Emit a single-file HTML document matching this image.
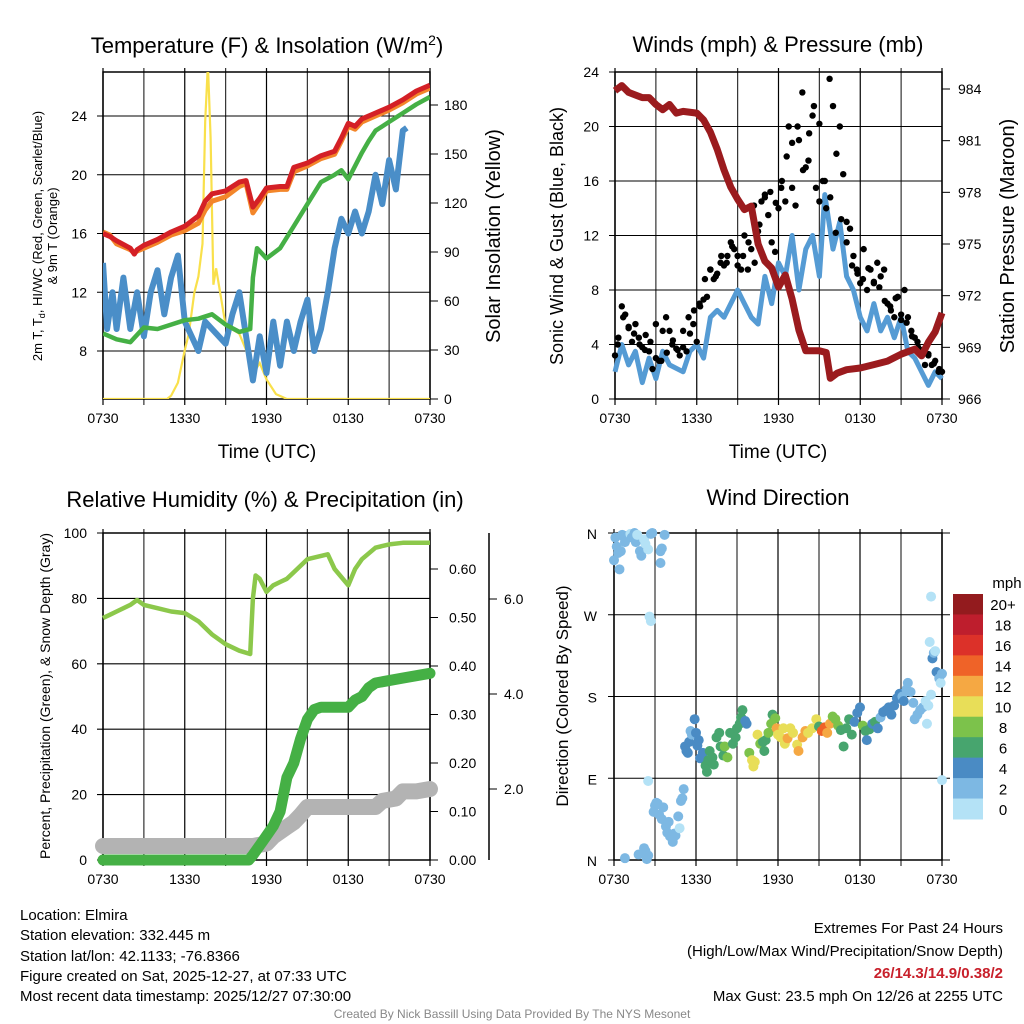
<!DOCTYPE html>
<html><head><meta charset="utf-8"><style>
html,body{margin:0;padding:0;background:#fff;}
svg{display:block;font-family:"Liberation Sans",sans-serif;}
.ft{position:absolute;font-family:"Liberation Sans",sans-serif;font-size:15px;color:#000;white-space:nowrap;}
</style></head><body>
<div style="position:relative;width:1024px;height:1024px;overflow:hidden">
<svg id="s" width="1024" height="1024" viewBox="0 0 1024 1024"></svg>
<div class="ft" style="left:20px;top:906px;line-height:20.3px">Location: Elmira<br>Station elevation: 332.445 m<br>Station lat/lon: 42.1133; -76.8366<br>Figure created on Sat, 2025-12-27, at 07:33 UTC<br>Most recent data timestamp: 2025/12/27 07:30:00</div>
<div class="ft" style="right:21px;top:918px;text-align:right;line-height:22.5px">Extremes For Past 24 Hours<br>(High/Low/Max Wind/Precipitation/Snow Depth)<br><b style="color:#c8202b">26/14.3/14.9/0.38/2</b><br>Max Gust: 23.5 mph On 12/26 at 2255 UTC</div>
<div class="ft" style="left:0;width:1024px;top:1007px;text-align:center;font-size:12px;color:#888">Created By Nick Bassill Using Data Provided By The NYS Mesonet</div>
</div>
<script>
// ---------- DATA ----------
const timeTicks=["0730","1330","1930","0130","0730"];
const tempT=[0,0.5,1,2,2.3,2.5,3,4,5,6,7,7.5,8,9,10,10.5,11,11.5,12,13,13.5,14,15,16,17,17.5,18,18.5,19,20,21,22,23,24];
const tempV=[16,15.8,15.5,15,14.6,14.9,15.2,15.6,16.1,16.5,17.2,18.2,18.7,18.9,19.5,19.6,17.8,18.4,19.1,19.2,19.2,20.5,20.8,21.3,21.6,22.5,23.5,23.3,23.8,24.2,24.6,25.1,25.7,26.1];
const temp9V=[16.1,15.9,15.3,14.9,14.7,14.8,15.0,15.4,15.9,16.2,16.7,17.6,18.2,18.5,19.2,19.4,17.4,18.1,18.9,19.0,19.0,20.2,20.6,21.1,21.4,22.3,23.3,23.1,23.6,24.0,24.4,24.9,25.5,25.9];
const dewT=[0,1,2,3,4,5,6,7,8,9,10,10.8,11,11.3,12,13,14,15,16,17,17.5,18,19,19.5,20,21,22,23,24];
const dewV=[9.2,8.8,8.6,9.6,9.5,9.8,10.1,10.2,10.5,9.8,9.3,9.5,13,15,14.3,15,16.5,18,19.5,20,20.3,19.7,21.5,22.3,23,23.6,24.2,24.8,25.3];
const wcT=[0,0.3,0.7,1,1.5,2,2.5,3,3.5,4,4.5,5,5.5,6,6.5,7,7.5,8,9,9.5,10,10.5,11,11.5,12,12.5,13,13.5,14,14.5,15,15.5,16,16.5,17,17.5,18,18.5,19,19.5,20,20.5,21,21.5,22,22.3];
const wcV=[14,9.5,12,9.5,13,9.5,12,9,12,13.5,10.5,13,14.5,10,9,8,10,9.5,8.5,10.5,12,9,6,9,6.5,10,7,10,8,10,11.5,8,9.5,12,15,17,16,17.5,16,17.5,20,18,21,19,23,23.2];
const solT=[0,4.7,5,5.5,6,6.3,6.7,7,7.3,7.5,7.7,7.9,8.1,8.3,8.6,9,10,10.5,11,11.5,12,12.7,13.5,24];
const solV=[0,0,2,10,30,40,65,75,95,170,205,160,70,80,65,45,40,30,15,22,12,3,0,0];
const tempTicks=[8,12,16,20,24];
const solTicks=[0,30,60,90,120,150,180];
const windT=[0,0.5,1,1.5,2,2.5,3,3.5,4,5,5.5,6,6.5,7,7.5,8,8.5,9,9.5,10,10.5,11,11.5,12,12.5,13,13.5,14,14.5,15,15.4,16,16.5,17,17.5,18,18.5,19,19.5,20,20.5,21,21.5,22,22.5,23,23.5,24];
const windV=[2,4,2.5,3.5,1.2,3,1.5,3.5,2.5,2,3.5,4,3,6,6.5,6,7,8,7,6,5.5,9,7,10,9,12,8,11,12,9,15,11,13,9,8,6,5,7,5,6,4.5,6,3.5,3,2,1,2,1.5];
const gustV=[3.2,4.5,6.8,6.2,5.3,4.2,5.5,4.5,3.8,4.7,3.5,2.2,5.5,2.8,5,6,5,4.3,3.7,3.2,3.8,3.5,4.8,5.5,4.2,6.8,7.3,7.5,9.5,8.8,9.2,10,9.8,10.5,11.5,11,10.5,9.5,12,9.5,11,10,12.3,14.5,15,13.5,11.5,10.8,14,16,14.5,20,15.5,14.2,19,22.5,17,19.5,20.8,15.5,14.5,16,14,23.5,21.5,18,20,16.5,13,12.5,10.5,9.5,8.5,11,8,9.5,8.5,10,9,9.5,7,6.5,6,7.5,5.8,8,6,5,4.5,3.8,3.5,2.5,3.3,2.5,2.8,2,2];
const gust2V=[4,6,5.2,4.8,4,3.6,4.2,3,2.8,3.4,4,3.6,5,6,6.5,7,8.8,9.5,9,10.5,10,11.2,9.8,10.5,11.5,14.2,12.8,14.8,15.2,14.4,15.5,17.8,18.8,20,16.8,17.5,21.5,20.2,16,14.8,12.2,13.2,11.5,9.8,9.2,8.8,9.6,8.6,8.2,7.2,6.8,7.4,6.2,5.6,4.6,4.2,3.6,3.2,2.6,2.2];
const presT=[0,0.5,1,2,2.5,3,3.5,4,4.5,5,6,6.5,7,7.5,8,8.5,9,9.5,10,10.5,11,11.5,12,12.5,13,13.5,14,15,15.5,15.8,16.3,17,18,19,20,21,22,22.5,23,23.5,24];
const presV=[983.9,984.2,983.8,983.5,983.5,983.1,982.8,983.1,982.6,982.7,982.6,982.2,981.5,980.5,979.3,978.3,977.6,977,977.2,975,974,973.6,972.5,973.2,971.8,970,968.8,968.8,968.7,967.2,967.5,967.7,967.8,968,968.2,968.6,968.9,968.5,969.3,969.9,971];
const windTicks=[0,4,8,12,16,20,24];
const presTicks=[966,969,972,975,978,981,984];
const rhT=[0,0.5,1,2,2.5,3,4,5,6,7,8,9,10,10.8,11,11.2,11.5,12,12.5,13,13.5,14,15,16,16.5,17,18,18.5,19,20,21,22,24];
const rhV=[74,75,76,78,79.5,78,77,76,75.5,73,69,66,64,63,80,87,86,82,84,85,86,88,92,93,93.5,89,84,89,92,95.5,96.5,97,97];
const prT=[0,10.7,11,11.5,12,12.5,13,13.5,14,14.5,15,15.5,16,18,18.5,19,19.5,20,22,24];
const prV=[0,0,0.01,0.03,0.05,0.07,0.1,0.17,0.2,0.25,0.29,0.31,0.315,0.315,0.33,0.337,0.355,0.365,0.375,0.385];
const snT=[0,11,12,12.5,13.5,14,14.5,15,20,20.5,21.5,22,23,24];
const snV=[0.8,0.8,0.85,1.0,1.2,1.3,1.45,1.62,1.62,1.75,1.8,1.95,1.95,2.0];
const rhTicks=[0,20,40,60,80,100];
const prTicks=["0.00","0.10","0.20","0.30","0.40","0.50","0.60"];
const snTicks=["2.0","4.0","6.0"];
const wdT=[0,0.1,0.2,0.3,0.4,0.5,0.6,0.7,0.8,1.0,1.2,1.3,1.5,1.6,1.7,1.9,2.0,2.2,2.3,2.5,2.7,2.8,2.6,2.7,0.8,1.8,2.2,2.3,2.4,2.5,2.9,3.0,3.1,3.2,3.3,3.5,3.6,3.8,3.9,4.0,4.1,4.3,4.4,4.5,4.7,4.8,4.9,5.0,5.1,2.5,3.4,3.5,3.4,3.7,5.2,5.3,5.4,5.5,5.6,5.7,5.9,6.0,6.1,6.2,6.3,6.5,6.7,6.8,6.9,7.0,7.2,7.3,7.5,7.7,7.8,8.0,8.1,8.3,8.5,8.7,8.9,9.0,9.2,9.3,9.4,9.6,9.7,9.9,10.1,10.2,10.3,10.5,10.7,10.9,11.0,11.1,11.3,11.5,11.6,11.8,11.9,12.0,12.2,12.4,12.5,12.7,12.9,13.1,13.4,13.5,13.8,14.0,14.2,14.5,14.8,15.0,15.2,15.4,15.6,15.8,16.0,16.2,16.4,16.6,16.8,17.0,17.2,17.4,17.6,17.8,18.0,18.2,18.4,18.5,18.7,18.9,19.1,19.3,19.5,19.7,19.9,20.1,20.3,20.5,20.7,20.9,21.1,21.2,21.4,21.5,21.7,21.9,22.0,22.2,22.4,22.6,22.8,22.9,23.1,23.3,23.4,23.6,23.8,23.9,24.0,23.2,23.5,24.0,23.0,23.2];
const wdD=[330,355,345,338,320,340,358,356,350,357,359,355,360,350,358,340,335,353,348,342,359,360,268,263,2,6,13,10,1,5,53,60,63,62,50,45,58,37,30,42,26,20,29,27,48,35,65,68,78,87,340,343,327,358,125,120,118,130,142,138,155,140,126,132,112,118,104,97,110,120,113,105,135,140,125,115,125,113,140,128,135,145,150,157,165,153,150,118,110,103,108,138,128,130,120,132,140,150,160,156,145,138,135,145,128,134,145,140,127,120,135,142,140,145,155,147,142,146,140,150,158,155,148,143,125,145,155,138,152,162,168,148,142,132,144,150,152,145,157,163,165,168,160,170,178,183,180,175,188,195,185,173,155,160,165,168,175,150,240,222,228,207,200,195,205,290,230,88,170,182];
const wdS=[2.5,3,3.5,3.8,3,3.2,3.8,3,2.5,2.2,1.5,2,3.5,2.5,1.8,2.5,2.5,1.5,0.8,0.8,2,2.5,0.8,1,2.5,2.5,2.5,2,2.5,2,2.5,2.5,3.8,3.5,2.5,2.5,2,2,2.5,2,2.5,2,2,2,2.5,1,2.5,2,2.5,0.8,2.5,2.5,2.5,2,4,4,4.5,4,3,2.5,4.5,4,4,4.5,4,5,6,6.5,6,7,7,6,6.5,6.5,7.5,7,8,9,6.5,6,6.5,7,6,6,7,4,4,9,10,10.5,10,10,8,7,7,6,8,8,7.5,9,12,11,10,11,10,12,10,11,10,12,12,13,11,10.5,11,7,15,14,12,12,9,8,8,7,6,7,7,6,5,4,4,9,6,5,6,5,6,4,3,4,4,4,4,4,4,4,3,4,2.5,2.5,3,3,2.5,3,3,2,1.5,1,1,4,2,4,2,0.8,2,0.8,1,1,1,1];
const dirLabels=["N","E","S","W","N"];
const speedBins=["0","2","4","6","8","10","12","14","16","18","20+"];
const binColors=["#b4e2f6","#7db8e3","#4a8bc4","#47a56e","#7cc24b","#e8de58","#f5a843","#ef6328","#dc3129","#be1e2d","#931b1e"];

// ---------- DRAW ----------
const NS="http://www.w3.org/2000/svg";
const svg=document.getElementById('s');
function el(tag,attrs,parent,text){const e=document.createElementNS(NS,tag);for(const k in attrs)e.setAttribute(k,attrs[k]);if(text!==undefined)e.textContent=text;(parent||svg).appendChild(e);return e;}
function lin(d0,d1,r0,r1){return v=>r0+(v-d0)*(r1-r0)/(d1-d0);}
function pathOf(T,V,sx,sy){return T.map((t,i)=>(i?'L':'M')+sx(t).toFixed(1)+','+sy(V[i]).toFixed(1)).join('');}
function ytitle(x,y,txt,size,name){const t=el('text',{x:x,y:y,'font-size':size,'text-anchor':'middle',transform:`rotate(-90 ${x} ${y})`},svg,txt);return t;}
function frame(x0,x1,y0,y1,name,gridYs,ext){
  const g=el('g',{});
  for(let i=0;i<=8;i++){const x=x0+(x1-x0)*i/8;el('line',{x1:x,x2:x,y1:y0-4,y2:y1+6,stroke:i%2?'#333':'#000','stroke-width':1.2},g);}
  gridYs.forEach(y=>el('line',{x1:x0-6,x2:x1+(ext||0),y1:y,y2:y,stroke:'#000','stroke-width':1.1},g));
  el('rect',{x:x0,y:y0,width:x1-x0,height:y1-y0,fill:'none',stroke:'#000','stroke-width':1.5},g);
  timeTicks.forEach((lb,i)=>{el('text',{x:x0+(x1-x0)*i/4,y:y1+24,'font-size':14,'text-anchor':'middle'},g,lb);});
  return g;
}
const hx=(x0,x1)=>lin(0,24,x0,x1);

// Panel 1
{const X0=103,X1=430,Y0=72,Y1=399;const sx=hx(X0,X1),sy=lin(8,24,351,116),sr=lin(0,180,399,105);
 frame(X0,X1,Y0,Y1,'temperature-frame',tempTicks.map(sy));
 tempTicks.forEach(v=>el('text',{x:X0-16,y:sy(v)+5,'font-size':14,'text-anchor':'end'},svg,v));
 solTicks.forEach(v=>{el('line',{x1:X1,x2:X1+8,y1:sr(v),y2:sr(v),stroke:'#000'});el('text',{x:X1+14,y:sr(v)+5,'font-size':14},svg,v);});
 const clip=el('clipPath',{id:'c1'});el('rect',{x:X0,y:Y0,width:X1-X0,height:Y1-Y0},clip);
 const g=el('g',{'clip-path':'url(#c1)'});
 let p;
 p=el('path',{d:pathOf(solT,solV,sx,sr),fill:'none',stroke:'#f9e04b','stroke-width':2.2},g);
 p=el('path',{d:pathOf(wcT,wcV,sx,sy),fill:'none',stroke:'#4a8ec8','stroke-width':6,'stroke-linejoin':'round'},g);
 p=el('path',{d:pathOf(dewT,dewV,sx,sy),fill:'none',stroke:'#45b045','stroke-width':4.5,'stroke-linejoin':'round'},g);
 p=el('path',{d:pathOf(tempT,temp9V,sx,sy),fill:'none',stroke:'#f3862a','stroke-width':5,'stroke-linejoin':'round'},g);
 p=el('path',{d:pathOf(tempT,tempV,sx,sy),fill:'none',stroke:'#d42026','stroke-width':5,'stroke-linejoin':'round'},g);
 let t=el('text',{x:267,y:53,'font-size':22,'text-anchor':'middle'},svg);t.innerHTML='Temperature (F) &amp; Insolation (W/m<tspan dy="-8" font-size="14">2</tspan><tspan dy="8">)</tspan>';
 
 t=ytitle(42,236,'',13,'temperature-y-title');t.innerHTML='2m T, T<tspan dy="3" font-size="9">d</tspan><tspan dy="-3">, HI/WC (Red, Green, Scarlet/Blue)</tspan>';
 ytitle(57,236,'& 9m T (Orange)',13,'temperature-y-title-2');
 ytitle(500,236,'Solar Insolation (Yellow)',20,'solar-y-title');
 t=el('text',{x:267,y:458,'font-size':19,'text-anchor':'middle'},svg,'Time (UTC)');
}
// Panel 2
{const X0=615,X1=942,Y0=72,Y1=399;const sx=hx(X0,X1),sy=lin(0,24,399,72),sr=lin(966,984,399,89);
 frame(X0,X1,Y0,Y1,'wind-frame',windTicks.map(sy));
 windTicks.forEach(v=>el('text',{x:X0-16,y:sy(v)+5,'font-size':14,'text-anchor':'end'},svg,v));
 presTicks.forEach(v=>{el('line',{x1:X1,x2:X1+8,y1:sr(v),y2:sr(v),stroke:'#000'});el('text',{x:X1+16,y:sr(v)+5,'font-size':14},svg,v);});
 const g=el('g',{});
 let p=el('path',{d:pathOf(windT,windV,sx,sy),fill:'none',stroke:'#559bd4','stroke-width':5,'stroke-linejoin':'round'},g);
 const gg=el('g',{},g);
 gustV.forEach((v,i)=>{const c=el('circle',{cx:sx(i*0.25),cy:sy(v),r:3.2,fill:'#000'},gg);});
 gust2V.forEach((v,i)=>{const c=el('circle',{cx:sx(i*0.4+0.2),cy:sy(v),r:3.2,fill:'#000'},gg);});
 p=el('path',{d:pathOf(presT,presV,sx,sr),fill:'none',stroke:'#9b1b1e','stroke-width':7,'stroke-linejoin':'round'},g);
 let t=el('text',{x:778,y:52,'font-size':22,'text-anchor':'middle'},svg,'Winds (mph) & Pressure (mb)');
 ytitle(563,236,'Sonic Wind & Gust (Blue, Black)',18,'wind-y-title');
 ytitle(1014,236,'Station Pressure (Maroon)',20,'pressure-y-title');
 t=el('text',{x:778,y:458,'font-size':19,'text-anchor':'middle'},svg,'Time (UTC)');
}
// Panel 3
{const X0=103,X1=430,Y0=533,Y1=860;const sx=hx(X0,X1),sy=lin(0,100,860,533),sp=lin(0,0.6,860,569),ss=lin(2,6,789,599);
 frame(X0,X1,Y0,Y1,'humidity-frame',rhTicks.map(sy));
 rhTicks.forEach(v=>el('text',{x:X0-16,y:sy(v)+5,'font-size':14,'text-anchor':'end'},svg,v));
 prTicks.forEach(v=>{const y=sp(+v);el('line',{x1:X1,x2:X1+8,y1:y,y2:y,stroke:'#000'});el('text',{x:X1+19,y:y+5,'font-size':14},svg,v);});
 el('line',{x1:489,x2:489,y1:533,y2:860,stroke:'#000','stroke-width':1.5});
 snTicks.forEach(v=>{const y=ss(+v);el('line',{x1:489,x2:497,y1:y,y2:y,stroke:'#000'});el('text',{x:504,y:y+5,'font-size':14},svg,v);});
 const g=el('g',{});
 let p=el('path',{d:pathOf(snT,snV,sx,ss),fill:'none',stroke:'#b3b3b3','stroke-width':16,'stroke-linecap':'round','stroke-linejoin':'round'},g);
 p=el('path',{d:pathOf(prT,prV,sx,sp),fill:'none',stroke:'#45b045','stroke-width':11,'stroke-linecap':'round','stroke-linejoin':'round'},g);
 p=el('path',{d:pathOf(rhT,rhV,sx,sy),fill:'none',stroke:'#8cc84b','stroke-width':4.5,'stroke-linejoin':'round'},g);
 let t=el('text',{x:265,y:507,'font-size':22,'text-anchor':'middle'},svg,'Relative Humidity (%) & Precipitation (in)');
 ytitle(50,696,'Percent, Precipitation (Green), & Snow Depth (Gray)',14,'humidity-y-title');
}
// Panel 4
{const X0=614,X1=942,Y0=533,Y1=860;const sx=hx(X0,X1),sy=lin(0,360,860,533);
 frame(X0,X1,Y0,Y1,'direction-frame',[0,90,180,270,360].map(sy),8);
 dirLabels.forEach((lb,i)=>el('text',{x:597,y:sy(i*90)+6,'font-size':14,'text-anchor':'end'},svg,lb));
 const g=el('g',{});
 wdT.forEach((t,i)=>{const b=Math.min(10,Math.floor(wdS[i]/2));const c=el('circle',{cx:sx(t),cy:sy(wdD[i]),r:5,fill:binColors[b]},g);});
 let t=el('text',{x:778,y:505,'font-size':22,'text-anchor':'middle'},svg,'Wind Direction');
 ytitle(568,696,'Direction (Colored By Speed)',17,'direction-y-title');
 const cb=el('g',{});
 const n=speedBins.length,top=594,h=(819-594)/n;
 speedBins.forEach((lb,i)=>{const k=n-1-i;el('rect',{x:953,y:top+i*h,width:30,height:h+0.5,fill:binColors[k]},cb);el('text',{x:1003,y:top+i*h+h/2+6,'font-size':15,'text-anchor':'middle'},cb,speedBins[k]);});
 el('text',{x:1007,y:588,'font-size':15,'text-anchor':'middle'},cb,'mph');
}
</script>
</body></html>
